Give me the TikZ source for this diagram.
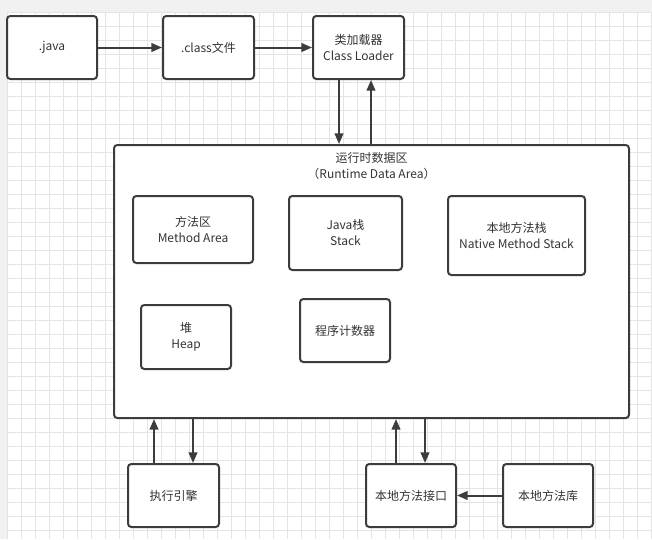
\documentclass[tikz,border=0pt]{standalone}
\usepackage{fontspec}
\setmainfont{Noto Sans CJK SC}
\usepackage{tikz}
\usetikzlibrary{arrows.meta,
  positioning}
\usepackage{xcolor}
\definecolor{bggray}{HTML}{F1F1F1}
\definecolor{gridgray}{HTML}{E4E4E4}
\definecolor{boxline}{HTML}{3C3C3C}
\definecolor{textgray}{HTML}{333333}

\begin{document}
\begin{tikzpicture}[x=0.75pt,y=-0.75pt,
    box/.style={draw=boxline,line width=1.5pt,rounded corners=2.5pt,fill=white,
      text=textgray,font=\fontsize{9}{12}\selectfont,align=center,inner sep=0pt},
    flow/.style={draw=boxline,line width=1.5pt,-{Triangle[length=8pt,width=6.5pt]}}]

      % Canvas and grid
      \useasboundingbox (0,0) rectangle (652,539);
      \fill[bggray] (0,0) rectangle (652,539);
      \fill[white] (7,12) rectangle (652,539);
      \draw[gridgray,line width=0.75pt,shift={(7,12)},step=10.5pt] (0,0) grid (645,527);

      % Loading chain
      \node[box,minimum width=67.5pt,minimum height=47.25pt] (java) at (52,47.5) {.java};
      \node[box,minimum width=68.25pt,minimum height=47.25pt] (cls) at (208.5,47.5) {.class文件};
      \node[box,minimum width=68.25pt,minimum height=47.25pt] (loader) at (358.5,47.5) {类加载器\\Class Loader};

      % Runtime data area and its parts
      \node[box,minimum width=386.25pt,minimum height=204.75pt] (rda) at (371.5,281.5) {};
      \node[text=textgray,font=\fontsize{9}{12.5}\selectfont,align=center,below=2.5pt of rda.north] (rdatitle) {运行时数据区\\（Runtime Data Area）};
      \node[box,minimum width=90pt,minimum height=50.25pt] (method) at (193,229.5) {方法区\\Method Area};
      \node[box,minimum width=84.75pt,minimum height=55.5pt] (jstack) at (345.5,233) {Java栈\\Stack};
      \node[box,minimum width=102.75pt,minimum height=59.25pt] (nstack) at (516.5,235.5) {本地方法栈\\Native Method Stack};
      \node[box,minimum width=67.5pt,minimum height=48pt] (heap) at (186,337) {堆\\Heap};
      \node[box,minimum width=67.5pt,minimum height=47.25pt] (pc) at (345,330.5) {程序计数器};

      % Engine and native side
      \node[box,minimum width=68.25pt,minimum height=47.25pt] (engine) at (173.5,495.5) {执行引擎};
      \node[box,minimum width=67.5pt,minimum height=47.25pt] (nif) at (411,495.5) {本地方法接口};
      \node[box,minimum width=67.5pt,minimum height=47.25pt] (nlib) at (548,495.5) {本地方法库};

      % Columns of the vertical connectors
      \coordinate (ldown) at (339,0);
      \coordinate (lup) at (371,0);
      \coordinate (eup) at (154,0);
      \coordinate (edown) at (193,0);
      \coordinate (nup) at (396,0);
      \coordinate (ndown) at (425,0);

      % Connectors
      \draw[flow] (java) -- (cls);
      \draw[flow] (cls) -- (loader);
      \draw[flow] (loader.south -| ldown) -- (rda.north -| ldown);
      \draw[flow] (rda.north -| lup) -- (loader.south -| lup);
      \draw[flow] (engine.north -| eup) -- (rda.south -| eup);
      \draw[flow] (rda.south -| edown) -- (engine.north -| edown);
      \draw[flow] (nif.north -| nup) -- (rda.south -| nup);
      \draw[flow] (rda.south -| ndown) -- (nif.north -| ndown);
      \draw[flow] (nlib) -- (nif);
    \end{tikzpicture}
\end{document}
